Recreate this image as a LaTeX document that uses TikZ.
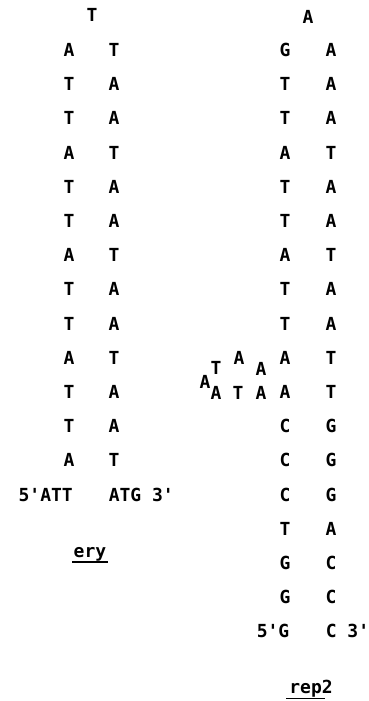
\documentclass[tikz,border=0pt]{standalone}
\usepackage{fontspec}
\usepackage{tikz}
\newfontfamily\seqfont{DejaVu Sans Mono Bold}

\begin{document}
\begin{tikzpicture}[x=1pt,y=-1pt,
    base/.style={font=\seqfont\fontsize{18}{18}\selectfont,inner sep=0pt,anchor=base},
    uline/.style={line width=1.8pt}]
  \useasboundingbox (0,0) rectangle (368,701);
  % ery hairpin
  \node[base] (ery-top) at (92,21.5) {T};
  \foreach \l/\r [count=\i from 0] in {A/T,T/A,T/A,A/T,T/A,T/A,A/T,T/A,T/A,A/T,T/A,T/A,A/T}{
    \node[base] (ery-l\i) at (69,{56.5+34.2*\i}) {\l};
    \node[base] (ery-r\i) at (114,{56.5+34.2*\i}) {\r};
  }
  \node[base,anchor=base east] (ery-5) at (73,{56.5+34.2*13}) {5'ATT};
  \node[base,anchor=base west] (ery-3) at (108.6,{56.5+34.2*13}) {ATG 3'};
  \node[base] (ery) at (90,557) {ery};
  \draw[uline] ([shift={(-1.5,5)}]ery.base west) -- ([shift={(2,5)}]ery.base east);
  % rep2 hairpin
  \node[base] (rep-top) at (308,23.5) {A};
  \foreach \l/\r [count=\i from 0] in {G/A,T/A,T/A,A/T,T/A,T/A,A/T,T/A,T/A,A/T,A/T,C/G,C/G,C/G,T/A,G/C,G/C}{
    \node[base] (rep-l\i) at (285,{56.5+34.2*\i}) {\l};
    \node[base] (rep-r\i) at (331,{56.5+34.2*\i}) {\r};
  }
  \node[base,anchor=base east] (rep-5) at (289.5,{56.5+34.2*17}) {5'G};
  \node[base,anchor=base west] (rep-3) at (325.6,{56.5+34.2*17}) {C 3'};
  % bulge
  \node[base] (bulge1) at (261,399.5) {A};
  \node[base] (bulge2) at (238,399.5) {T};
  \node[base] (bulge3) at (216,399.5) {A};
  \node[base] (bulge4) at (205,388.5) {A};
  \node[base] (bulge5) at (216,374.5) {T};
  \node[base] (bulge6) at (239,364.5) {A};
  \node[base] (bulge7) at (261,375.5) {A};
  \node[base] (rep2) at (311,693) {rep2};
  \draw[uline] ([shift={(-3,5.5)}]rep2.base west) -- ([shift={(-8,5.5)}]rep2.base east);
\end{tikzpicture}
\end{document}
